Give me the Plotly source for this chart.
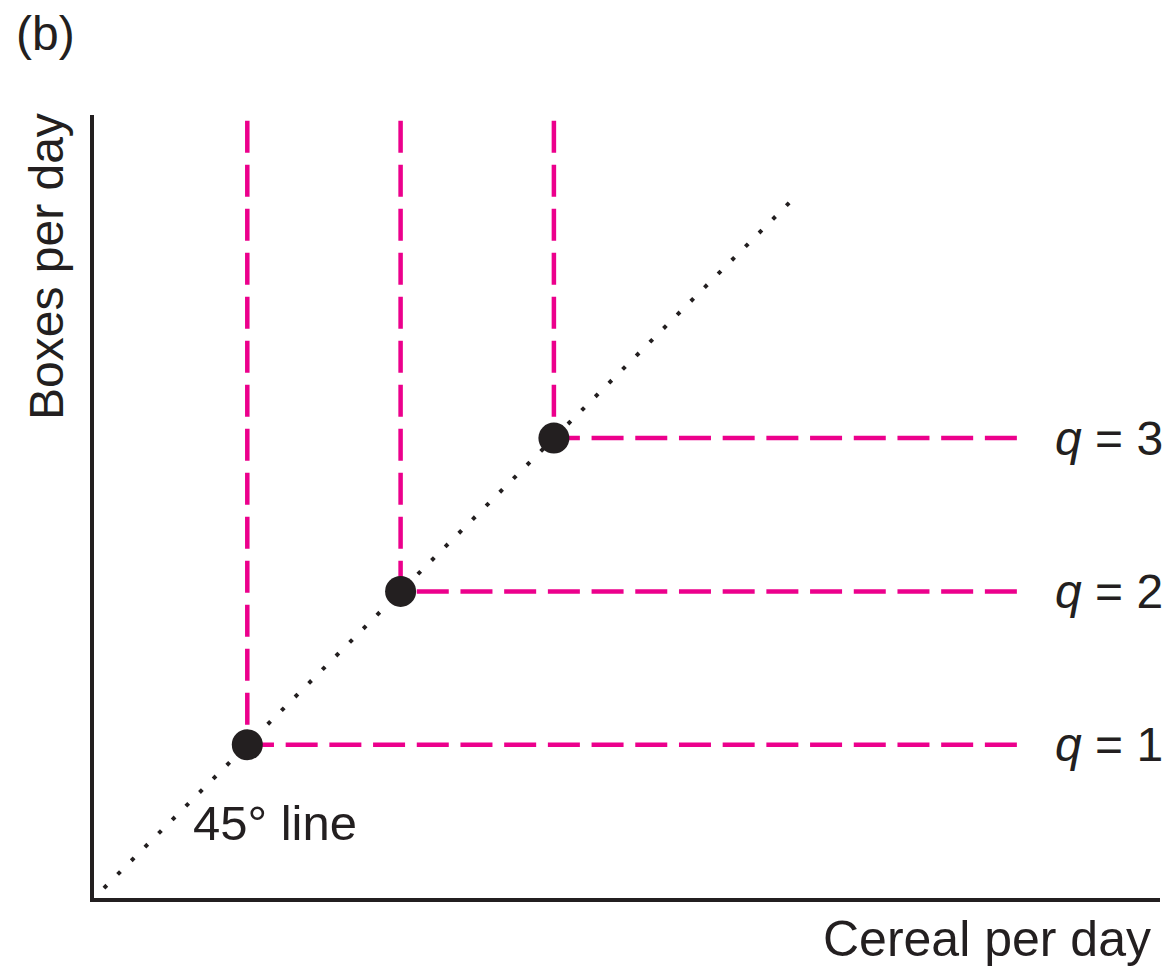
import plotly.graph_objects as go

# Data (in abstract "units"; 1 unit = one box of cereal per day)
point_x = [1, 2, 3]
point_y = [1, 2, 3]
q_labels = ["q = 1", "q = 2", "q = 3"]
diag_x = [0.065, 4.57]
diag_y = [0.065, 4.57]
vline_top = 5.07
hline_end = 6.02

INK = "#231F20"
PINK = "#EC008C"
FONT = "Liberation Sans, Arial, sans-serif"

W, H = 1174, 968
L, R, T, B = 94, 14, 115, 70
pw, ph = W - L - R, H - T - B
UNIT = 153.3  # pixels per unit

fig = go.Figure()

# Dashed guide lines (dash pattern anchored at the top / right end)
for x, y in zip(point_x, point_y):
    fig.add_trace(go.Scatter(x=[x, x], y=[vline_top, y], mode="lines",
                             line=dict(color=PINK, width=4.5, dash="32px,12px"),
                             hoverinfo="skip", showlegend=False))
    fig.add_trace(go.Scatter(x=[hline_end, x], y=[y, y], mode="lines",
                             line=dict(color=PINK, width=4.5, dash="32px,11.7px"),
                             hoverinfo="skip", showlegend=False))

# 45 degree dotted line
fig.add_trace(go.Scatter(x=diag_x, y=diag_y, mode="lines",
                         line=dict(color=INK, width=4, dash="4px,15.3px"),
                         hoverinfo="skip", showlegend=False))

# Points
fig.add_trace(go.Scatter(x=point_x, y=point_y, mode="markers",
                         marker=dict(color=INK, size=31),
                         hoverinfo="skip", showlegend=False))

def px_x(p):
    return (p - L) / pw

def px_y(p):
    return (H - B - p) / ph

annotations = []
for y, lab in zip(point_y, q_labels):
    txt = "<i>q</i>" + lab[1:]
    annotations.append(dict(x=px_x(1053), y=y, xref="paper", yref="y", text=txt,
                            xanchor="left", yanchor="middle", showarrow=False,
                            font=dict(family=FONT, size=48, color=INK)))

annotations += [
    dict(x=px_x(191), y=px_y(823), xref="paper", yref="paper", text="45° line",
         xanchor="left", yanchor="middle", showarrow=False,
         font=dict(family=FONT, size=49, color=INK)),
    dict(x=px_x(1153), y=px_y(939), xref="paper", yref="paper", text="Cereal per day",
         xanchor="right", yanchor="middle", showarrow=False,
         font=dict(family=FONT, size=50, color=INK)),
    dict(x=px_x(46), y=px_y(267), xref="paper", yref="paper", text="Boxes per day",
         textangle=-90, xanchor="center", yanchor="middle", showarrow=False,
         font=dict(family=FONT, size=48, color=INK)),
    dict(x=px_x(14), y=px_y(33), xref="paper", yref="paper", text="(b)",
         xanchor="left", yanchor="middle", showarrow=False,
         font=dict(family=FONT, size=48, color=INK)),
]

fig.update_layout(
    width=W, height=H,
    margin=dict(l=L, r=R, t=T, b=B),
    paper_bgcolor="white", plot_bgcolor="white",
    xaxis=dict(range=[0, pw / UNIT], showline=True, linewidth=4, linecolor=INK,
               showgrid=False, zeroline=False, showticklabels=False, ticks=""),
    yaxis=dict(range=[0, ph / UNIT], showline=True, linewidth=4, linecolor=INK,
               showgrid=False, zeroline=False, showticklabels=False, ticks=""),
    annotations=annotations,
)

fig.write_html("out.html", config={"displayModeBar": False},
               post_script="document.body.style.margin='0px';document.body.style.overflow='hidden';")
